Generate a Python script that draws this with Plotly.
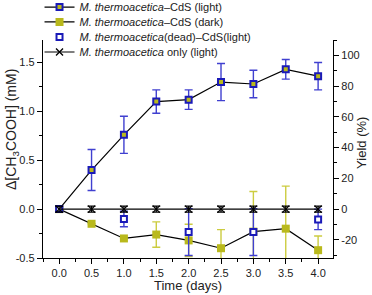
import plotly.graph_objects as go

days = [0.0, 0.5, 1.0, 1.5, 2.0, 2.5, 3.0, 3.5, 4.0]

light = [0.0, 0.40, 0.76, 1.10, 1.12, 1.30, 1.28, 1.43, 1.36]
light_err = [0.02, 0.21, 0.19, 0.12, 0.10, 0.19, 0.14, 0.10, 0.14]

dark = [0.0, -0.15, -0.30, -0.26, -0.32, -0.40, -0.23, -0.20, -0.42]
dark_err = [0.0, 0.0, 0.0, 0.13, 0.165, 0.19, 0.41, 0.435, 0.145]

dead_days = [0.0, 1.0, 2.0, 3.0, 4.0]
dead = [0.0, -0.10, -0.235, -0.235, -0.105]
dead_err = [0.02, 0.08, 0.24, 0.24, 0.105]

only = [0.0, 0.0, 0.0, 0.0, 0.0, 0.0, 0.0, 0.0, 0.0]
only_err = [0.03, 0.03, 0.03, 0.03, 0.03, 0.03, 0.03, 0.03, 0.03]

x_ticks = [0.0, 0.5, 1.0, 1.5, 2.0, 2.5, 3.0, 3.5, 4.0]
x_labels = ["0.0", "0.5", "1.0", "1.5", "2.0", "2.5", "3.0", "3.5", "4.0"]
y_ticks = [-0.5, 0.0, 0.5, 1.0, 1.5]
y_labels = ["-0.5", "0.0", "0.5", "1.0", "1.5"]
y2_ticks = [-20, 0, 20, 40, 60, 80, 100]
y2_labels = ["-20", "0", "20", "40", "60", "80", "100"]

series_names = [
    "<i>M. thermoacetica</i>–CdS (light)",
    "<i>M. thermoacetica</i>–CdS (dark)",
    "<i>M. thermoacetica</i>(dead)–CdS(light)",
    "<i>M. thermoacetica</i> only (light)",
]

BLUE = "#1a1ab8"
BLUE_ERR = "#4040d0"
OLIVE = "#b9b91c"
OLIVE_ERR = "#cccc40"
FONT = "Liberation Sans, Arial, sans-serif"
TXT = "#222"

fig = go.Figure()

fig.add_trace(go.Scatter(
    x=days, y=light, mode="lines+markers", name=series_names[0], legend="legend",
    line=dict(color="black", width=1.2),
    marker=dict(symbol="square", size=6, color=OLIVE, line=dict(color=BLUE, width=2)),
    error_y=dict(type="data", array=light_err, color=BLUE_ERR, thickness=1.4, width=4),
))
fig.add_trace(go.Scatter(
    x=days, y=dark, mode="lines+markers", name=series_names[1], legend="legend2",
    line=dict(color="black", width=1.2),
    marker=dict(symbol="square", size=8, color=OLIVE, line=dict(width=0)),
    error_y=dict(type="data", array=dark_err, color=OLIVE_ERR, thickness=1.4, width=4),
))
fig.add_trace(go.Scatter(
    x=dead_days, y=dead, mode="markers", name=series_names[2], legend="legend3",
    marker=dict(symbol="square", size=6, color="white", line=dict(color=BLUE, width=2)),
    error_y=dict(type="data", array=dead_err, color=BLUE_ERR, thickness=1.4, width=4),
))
fig.add_trace(go.Scatter(
    x=days, y=only, mode="lines+markers", name=series_names[3], legend="legend4",
    line=dict(color="black", width=1.2),
    marker=dict(symbol="x-thin", size=7, color="black", line=dict(color="black", width=1.3)),
    error_y=dict(type="data", array=only_err, color="black", thickness=1.2, width=4),
))
# invisible trace to activate right axis
fig.add_trace(go.Scatter(x=[days[0]], y=[0], yaxis="y2", mode="markers",
                         marker=dict(opacity=0), showlegend=False, hoverinfo="skip"))

axis_common = dict(
    showline=True, linecolor="black", linewidth=1.3, ticks="outside", ticklen=5,
    tickwidth=1.2, tickcolor="black", showgrid=False, zeroline=False,
    tickfont=dict(family=FONT, size=11, color=TXT), automargin=False,
)

def leg(yv):
    return dict(x=-0.012, y=yv, xanchor="left", yanchor="middle",
                bgcolor="rgba(0,0,0,0)", font=dict(family=FONT, size=11, color=TXT),
                itemwidth=30, borderwidth=0)

fig.update_layout(
    width=372, height=295,
    margin=dict(l=43, r=39, t=40, b=37, autoexpand=False),
    paper_bgcolor="white", plot_bgcolor="white",
    font=dict(family=FONT, size=11, color=TXT),
    xaxis=dict(range=[-0.25, 4.23], tickvals=x_ticks, ticktext=x_labels,
               minor=dict(ticks="outside", ticklen=3, tickcolor="black", dtick=0.25, tick0=0),
               **axis_common),
    yaxis=dict(range=[-0.5, 1.73], tickvals=y_ticks, ticktext=y_labels,
               minor=dict(ticks="outside", ticklen=3, tickcolor="black", dtick=0.25, tick0=0),
               **axis_common),
    yaxis2=dict(range=[-31.8, 110.0], overlaying="y", side="right", anchor="x",
                tickvals=y2_ticks, ticktext=y2_labels,
                minor=dict(ticks="outside", ticklen=3, tickcolor="black", dtick=10, tick0=0),
                **axis_common),
    legend=leg(1.151),
    legend2=leg(1.083),
    legend3=leg(1.014),
    legend4=leg(0.945),
    showlegend=True,
    annotations=[
        dict(text="Time (days)", x=0.5, y=-0.128, xref="paper", yref="paper",
             xanchor="center", yanchor="middle", showarrow=False,
             font=dict(family=FONT, size=13, color=TXT)),
        dict(text="Δ[CH<sub>3</sub>COOH] (mM)", x=0, xshift=-31, y=0.587,
             xref="paper", yref="paper", xanchor="center", yanchor="middle",
             textangle=-90, showarrow=False, font=dict(family=FONT, size=14, color=TXT)),
        dict(text="Yield (%)", x=1, xshift=29, y=0.528,
             xref="paper", yref="paper", xanchor="center", yanchor="middle",
             textangle=-90, showarrow=False, font=dict(family=FONT, size=13, color=TXT)),
    ],
)

fig.write_html("out.html", config={"displayModeBar": False},
               post_script="document.body.style.margin='0';document.body.style.overflow='hidden';")
